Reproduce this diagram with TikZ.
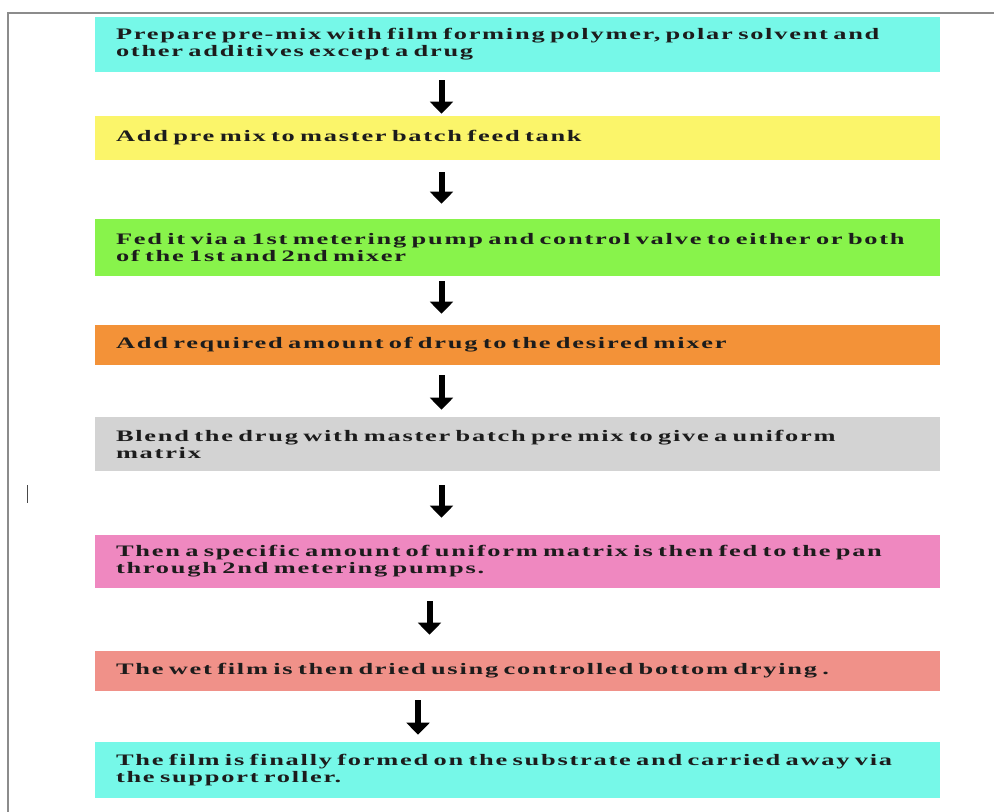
\documentclass[tikz,border=0pt]{standalone}
\usepackage{fontspec}
\usetikzlibrary{arrows.meta}
\newfontfamily\flowfont[FakeStretch=1.65,LetterSpace=11,WordSpace=2.2]{Liberation Serif Bold}
\definecolor{boxcyan}{RGB}{118,248,232}
\definecolor{boxyellow}{RGB}{251,245,106}
\definecolor{boxgreen}{RGB}{136,243,75}
\definecolor{boxorange}{RGB}{243,146,56}
\definecolor{boxgray}{RGB}{211,211,211}
\definecolor{boxpink}{RGB}{239,136,192}
\definecolor{boxsalmon}{RGB}{240,145,137}
\definecolor{textdark}{RGB}{28,28,28}
\tikzset{
  flowbox/.style={rectangle, inner xsep=15.75pt, inner ysep=0pt,
    minimum width=633.75pt, text width=602.25pt, align=left,
    text=textdark, font=\flowfont\fontsize{12}{12.75}\selectfont},
  flowarrow/.style={line width=4.5pt, -{Triangle[width=17pt,length=9pt]}}
}
\begin{document}
\begin{tikzpicture}[x=0.75pt,y=0.75pt,yscale=-1,xscale=1]
\path[use as bounding box] (0,0) rectangle (994,812);

%Shape: Frame
\draw[color=gray!90, line width=1.5pt] (994,13) -- (8,13) -- (8,812);
%Shape: stray mark
\draw[color=textdark!80, line width=1.1pt] (27.5,485) -- (27.5,503);

% Text Node
\node[flowbox, fill=boxcyan, minimum height=41.25pt] (prep) at (517.5,44.5)
  {Prepare pre-mix with film forming polymer, polar solvent and\\other additives except a drug};
% Text Node
\node[flowbox, fill=boxyellow, minimum height=33pt] (feed) at (517.5,138)
  {Add pre mix to master batch feed tank};
% Text Node
\node[flowbox, fill=boxgreen, minimum height=42.75pt] (pump) at (517.5,247.5)
  {Fed it via a 1st metering pump and control valve to either or both\\of the 1st and 2nd mixer};
% Text Node
\node[flowbox, fill=boxorange, minimum height=30pt] (drug) at (517.5,345)
  {Add required amount of drug to the desired mixer};
% Text Node
\node[flowbox, fill=boxgray, minimum height=40.5pt] (blend) at (517.5,444)
  {Blend the drug with master batch pre mix to give a uniform\\matrix};
% Text Node
\node[flowbox, fill=boxpink, minimum height=39.75pt] (pan) at (517.5,561.5)
  {Then a specific amount of uniform matrix is then fed to the pan\\through 2nd metering pumps.};
% Text Node
\node[flowbox, fill=boxsalmon, minimum height=30pt] (dry) at (517.5,671)
  {The wet film is then dried using controlled bottom drying .};
% Text Node
\node[flowbox, fill=boxcyan, minimum height=42pt] (roll) at (517.5,770)
  {The film is finally formed on the substrate and carried away via\\the support roller.};

%Straight Lines
\draw[flowarrow] ([xshift=-57pt,yshift=6pt]prep.south) -- ([xshift=-57pt,yshift=-1.5pt]feed.north);
\draw[flowarrow] ([xshift=-57pt,yshift=9pt]feed.south) -- ([xshift=-57pt,yshift=-11.25pt]pump.north);
\draw[flowarrow] ([xshift=-57pt,yshift=3.75pt]pump.south) -- ([xshift=-57pt,yshift=-8.25pt]drug.north);
\draw[flowarrow] ([xshift=-57pt,yshift=7.5pt]drug.south) -- ([xshift=-57pt,yshift=-5.25pt]blend.north);
\draw[flowarrow] ([xshift=-57pt,yshift=10.5pt]blend.south) -- ([xshift=-57pt,yshift=-12.75pt]pan.north);
\draw[flowarrow] ([xshift=-66pt,yshift=9.75pt]pan.south) -- ([xshift=-66pt,yshift=-12pt]dry.north);
\draw[flowarrow] ([xshift=-74.6pt,yshift=6.75pt]dry.south) -- ([xshift=-74.6pt,yshift=-5.25pt]roll.north);

\end{tikzpicture}
\end{document}
